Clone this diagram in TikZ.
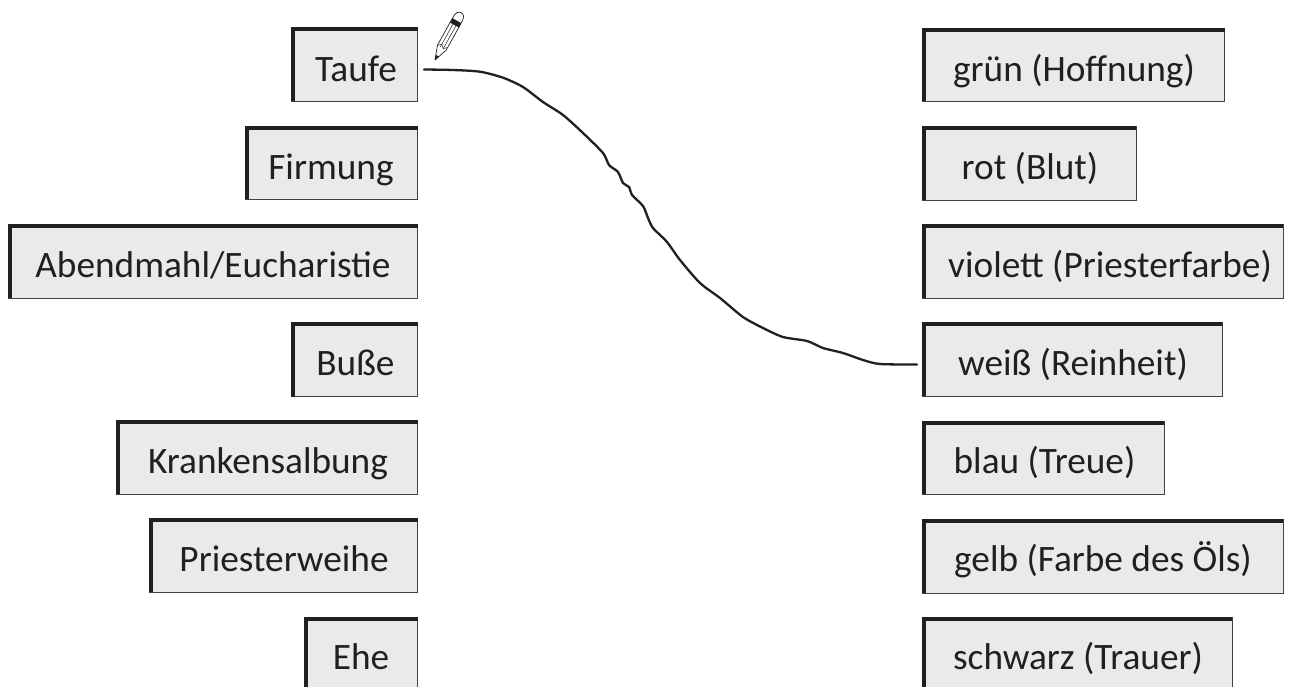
\documentclass[tikz,border=0pt]{standalone}
\usepackage{fontspec}
\setmainfont{Carlito}
\usetikzlibrary{calc}
\definecolor{boxfill}{HTML}{EAEAEC}
\definecolor{ink}{HTML}{231F20}
\tikzset{
  cardbox/.style={draw=ink!85,line width=1pt,fill=boxfill,inner sep=0pt,outer sep=0pt},
  cardtext/.style={text=ink,inner sep=0pt,outer sep=0pt,anchor=base,font=\fontsize{37.3}{42}\selectfont},
  linkline/.style={draw=ink,line width=2.3pt,line cap=round,line join=round},
  pencilline/.style={draw=ink,line width=0.7pt,line join=round}
}
% name, left, top, right, bottom, text centre x, baseline y, text
\newcommand{\card}[8]{%
  \node[cardbox,minimum width=#4pt-#2pt,minimum height=#5pt-#3pt] (#1) at ({(#2+#4)/2},{(#3+#5)/2}) {};
  \fill[ink] (#1.south west) rectangle ($(#1.north west)+(3.5,3.5)$);
  \fill[ink] ($(#1.north west)+(0,0)$) rectangle ($(#1.north east)+(0,3.5)$);
  \node[cardtext] (#1-label) at (#6,#7) {#8};
}
\begin{document}
\begin{tikzpicture}[x=1pt,y=-1pt]
\useasboundingbox (0,0) rectangle (1298,686);
\clip (0,0) rectangle (1298,686);
\fill[white] (0,0) rectangle (1298,686);
\card{taufe}{291}{27}{417.5}{101}{356}{81}{Taufe}
\card{firmung}{245}{126}{417.5}{199}{331}{179}{Firmung}
\card{abend}{8}{224}{417.5}{298}{213}{277.5}{Abendmahl/Eucharistie}
\card{busse}{291}{322}{417.5}{396.5}{355.5}{375.5}{Buße}
\card{kranken}{116}{420}{417.5}{494}{268}{473.5}{Krankensalbung}
\card{priester}{149}{518}{417.5}{592}{284}{571.5}{Priesterweihe}
\card{ehe}{304}{617}{417.5}{692}{361}{669.5}{Ehe}
\card{gruen}{922}{28}{1224.5}{101}{1074}{81}{grün (Hoffnung)}
\card{rot}{922}{126}{1136}{200}{1030}{179}{rot (Blut)}
\card{violett}{922}{224}{1283}{298}{1110}{277.5}{violett (Priesterfarbe)}
\card{weiss}{922}{322}{1222}{396}{1073}{375.5}{weiß (Reinheit)}
\card{blau}{922}{421}{1164}{494}{1044.5}{473.5}{blau (Treue)}
\card{gelb}{922}{519}{1283}{593}{1103}{571.5}{gelb (Farbe des Öls)}
\card{schwarz}{922}{617}{1232}{692}{1078}{669.5}{schwarz (Trauer)}
\coordinate (linkstart) at ($(taufe.east)+(6.5,5.5)$);
\coordinate (linkend) at ($(weiss.west)+(-5,5.5)$);
\draw[linkline] plot[smooth,tension=0.45] coordinates {(linkstart) (453,70) (480,71.7) (503,77.7) (523,87) (543,102) (563,115) (583,133) (603,153) (609,165) (618,172) (623,183) (629,187) (632,195) (643,206) (648,218) (653,228) (667,242) (680,260) (700,283) (720,298) (743,317) (763,328) (783,337) (807,341) (823,348) (843,353) (863,360) (880,364) (linkend)};
% pencil
\begin{scope}[shift={(435,60)},rotate=61]
  \draw[pencilline,fill=white] (0,0) -- (14,-5) -- (46,-5) .. controls (52,-5) and (54,-3) .. (54,0) .. controls (54,3) and (52,5) .. (46,5) -- (14,5) -- cycle;
  \fill[ink] (0,0) -- (5,-1.8) -- (5,1.8) -- cycle;
  \fill[ink] (40,-5) rectangle (45,5);
  \draw[pencilline,line width=0.5pt] (14,-1.7) -- (40,-1.7) (14,1.7) -- (40,1.7);
  \draw[pencilline,line width=0.5pt] (14,-5) -- (17,-1.7) -- (14,1.7) -- (17,5);
\end{scope}
\end{tikzpicture}
\end{document}
